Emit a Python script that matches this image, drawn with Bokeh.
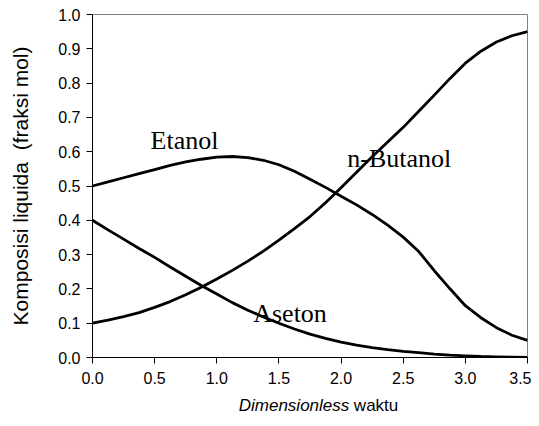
from bokeh.plotting import figure
from bokeh.layouts import column
from bokeh.models import Range1d, FixedTicker, NumeralTickFormatter, Label
from bokeh.embed import file_html
from bokeh.resources import INLINE

# Data
waktu = [0.0, 0.125, 0.25, 0.375, 0.5, 0.625, 0.75, 0.875, 1.0, 1.125, 1.25, 1.375, 1.5, 1.625,
         1.75, 1.875, 2.0, 2.125, 2.25, 2.375, 2.5, 2.625, 2.75, 2.875, 3.0, 3.125, 3.25, 3.375, 3.5]
etanol = [0.500, 0.512, 0.524, 0.536, 0.548, 0.560, 0.570, 0.578, 0.584, 0.586, 0.583, 0.575, 0.562, 0.543,
          0.520, 0.496, 0.470, 0.445, 0.417, 0.386, 0.351, 0.309, 0.253, 0.201, 0.151, 0.116, 0.087, 0.065, 0.050]
butanol = [0.100, 0.109, 0.119, 0.131, 0.146, 0.163, 0.183, 0.205, 0.229, 0.254, 0.281, 0.310, 0.342, 0.376,
           0.411, 0.451, 0.495, 0.540, 0.585, 0.628, 0.671, 0.718, 0.765, 0.813, 0.858, 0.893, 0.920, 0.938, 0.950]
aseton = [0.400, 0.372, 0.345, 0.318, 0.292, 0.264, 0.237, 0.210, 0.185, 0.160, 0.138, 0.118, 0.100, 0.083,
          0.068, 0.056, 0.045, 0.036, 0.029, 0.023, 0.018, 0.014, 0.010, 0.007, 0.005, 0.003, 0.002, 0.001, 0.000]

x_ticks = [0.0, 0.5, 1.0, 1.5, 2.0, 2.5, 3.0, 3.5]
y_ticks = [0.0, 0.1, 0.2, 0.3, 0.4, 0.5, 0.6, 0.7, 0.8, 0.9, 1.0]

series_names = ["Etanol", "n-Butanol", "Aseton"]
y_title = "Komposisi liquida\u00a0 (fraksi mol)"
x_title_italic = "Dimensionless"
x_title_normal = "waktu"

p = figure(width=531, height=390, output_backend="svg", toolbar_location=None,
           x_range=Range1d(0, 3.5), y_range=Range1d(0, 1.0),
           min_border_left=92, min_border_right=4, min_border_top=14, min_border_bottom=33)
p.background_fill_color = "white"
p.border_fill_color = "white"
p.outline_line_color = "#808080"
p.outline_line_width = 1
p.xgrid.visible = False
p.ygrid.visible = False

for ax, ticks in ((p.xaxis[0], x_ticks), (p.yaxis[0], y_ticks)):
    ax.ticker = FixedTicker(ticks=ticks, minor_ticks=[])
    ax.formatter = NumeralTickFormatter(format="0.0")
    ax.major_tick_out = 6
    ax.major_tick_in = 0
    ax.minor_tick_out = 0
    ax.minor_tick_in = 0
    ax.axis_line_color = "black"
    ax.major_tick_line_color = "black"
    ax.major_label_text_font = "Liberation Sans"
    ax.major_label_text_font_size = "16px"
    ax.major_label_text_color = "black"
p.yaxis.major_label_standoff = 6
p.xaxis.major_label_standoff = 8

p.yaxis.axis_label = y_title
p.yaxis.axis_label_text_font = "Liberation Sans"
p.yaxis.axis_label_text_font_size = "21px"
p.yaxis.axis_label_text_font_style = "normal"
p.yaxis.axis_label_text_color = "black"
p.yaxis.axis_label_standoff = 23

for ys in (etanol, butanol, aseton):
    p.line(waktu, ys, line_color="black", line_width=2.8)

# curve labels
label_font = "Liberation Serif"
p.add_layout(Label(x=0.467, y=0.633, text=series_names[0], text_font=label_font,
                   text_font_size="26px", text_align="left", text_baseline="alphabetic", text_color="black"))
p.add_layout(Label(x=2.05, y=0.580, text=series_names[1], text_font=label_font,
                   text_font_size="26px", text_align="left", text_baseline="alphabetic", text_color="black"))
p.add_layout(Label(x=1.293, y=0.128, text=series_names[2], text_font=label_font,
                   text_font_size="26px", text_align="left", text_baseline="alphabetic", text_color="black"))

# x-axis title strip (mixed italic / normal), aligned with the plot frame above
p2 = figure(width=531, height=36, output_backend="svg", toolbar_location=None,
            x_range=Range1d(0, 3.5), y_range=Range1d(0, 36),
            x_axis_location=None, y_axis_location=None,
            min_border_left=92, min_border_right=4, min_border_top=0, min_border_bottom=0)
p2.outline_line_color = None
p2.xgrid.visible = False
p2.ygrid.visible = False
p2.background_fill_color = "white"
p2.border_fill_color = "white"
p2.add_layout(Label(x=2.066, y=21, text=x_title_italic, text_font="Liberation Sans",
                    text_font_style="italic", text_font_size="17px", text_align="right",
                    text_baseline="alphabetic", text_color="black"))
p2.add_layout(Label(x=2.103, y=21, text=x_title_normal, text_font="Liberation Sans",
                    text_font_size="17px", text_align="left",
                    text_baseline="alphabetic", text_color="black"))

layout = column(p, p2, spacing=0)
open("out.html", "w").write(file_html(layout, INLINE))
